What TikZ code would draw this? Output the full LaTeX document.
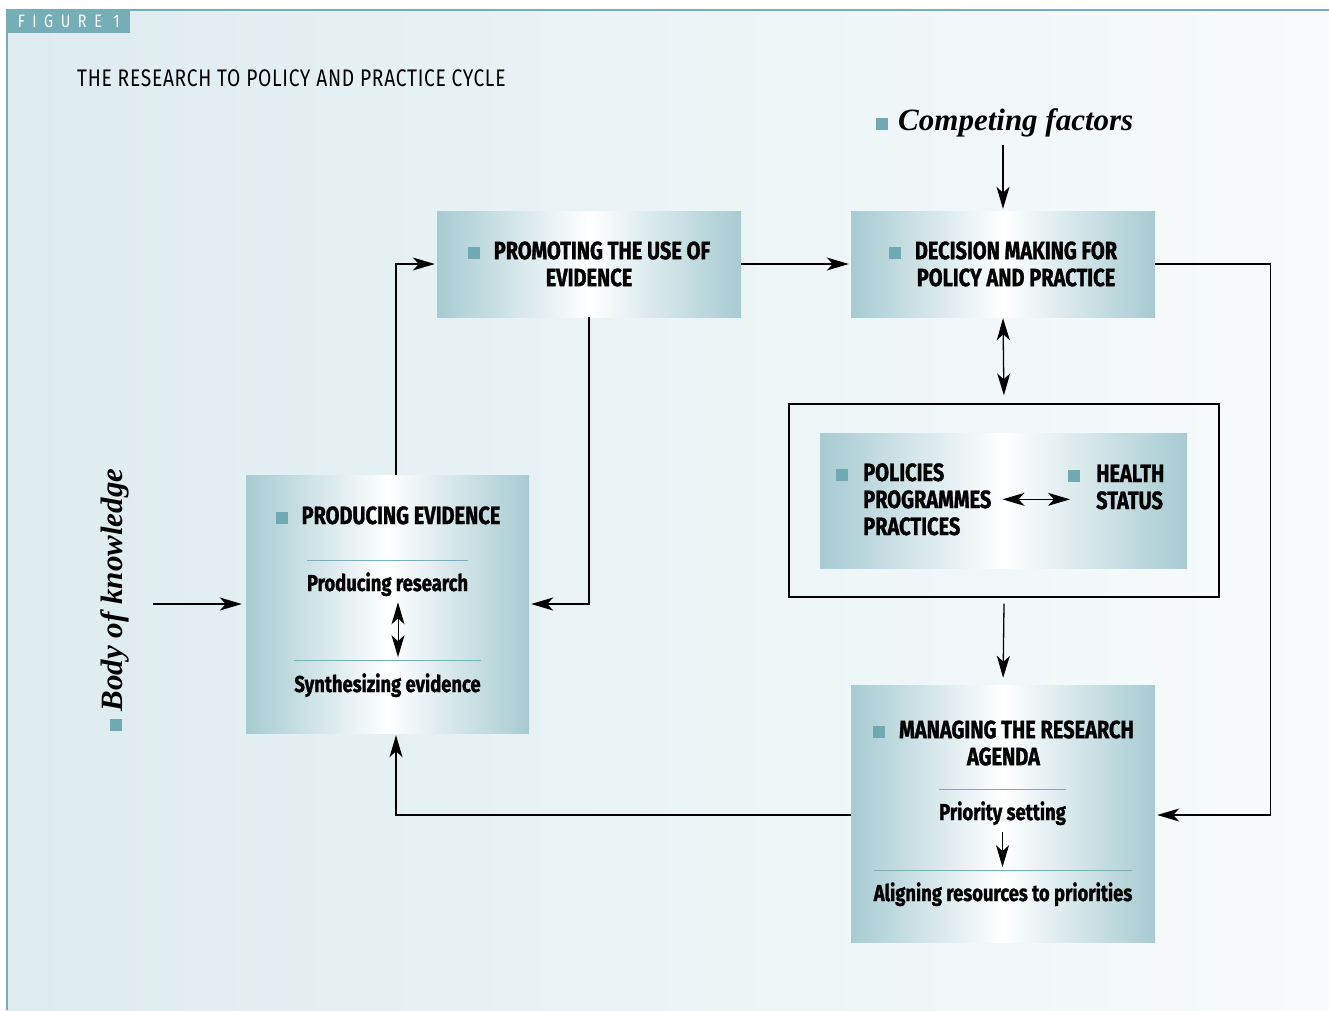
\documentclass[tikz,border=0pt]{standalone}
\usepackage{fontspec}
\usetikzlibrary{arrows.meta}
\newfontfamily\futura{Fira Sans}[FakeStretch=0.8, BoldFeatures={FakeBold=1.2}]
\newfontfamily\garamond{Liberation Serif}
\definecolor{bgl}{RGB}{222,236,239}
\definecolor{bgr}{RGB}{248,251,252}
\definecolor{boxc}{RGB}{166,203,209}
\definecolor{sqc}{RGB}{111,170,180}
\definecolor{framec}{RGB}{118,174,184}
\definecolor{rulec}{RGB}{120,176,186}
\newcommand{\sq}{{\color{sqc}\rule[0.5pt]{12pt}{12pt}}}

\tikzset{
  box/.style={inner sep=0pt, left color=boxc, right color=boxc, middle color=white,
    font=\futura\bfseries\fontsize{25}{27}\selectfont, align=center},
  head/.style={inner sep=0pt, font=\futura\bfseries\fontsize{25}{27}\selectfont},
  sub/.style={inner sep=0pt, font=\futura\bfseries\fontsize{23}{26}\selectfont},
  sepline/.style={draw=rulec, line width=1.1pt},
  arr/.style={-{Stealth[length=22pt,width=13pt,inset=6pt]}, line width=1.3pt},
  arrs/.style={{Stealth[length=22pt,width=13pt,inset=6pt]}-{Stealth[length=22pt,width=13pt,inset=6pt]}, line width=1.3pt},
  side/.style={font=\garamond\bfseries\itshape\fontsize{31}{31}\selectfont, inner sep=0pt}
}

\begin{document}
\begin{tikzpicture}[x=1pt,y=-1pt]
    \useasboundingbox (0,0) rectangle (1329,1010);
    \fill[left color=bgl, right color=bgr] (7,10) rectangle (1329,1010);
    \draw[framec, line width=1.2pt] (7,1010) -- (7,10) -- (1329,10);
    \node[fill=framec, anchor=north west, minimum width=123, minimum height=23, inner sep=0pt,
      text=white, font=\futura\fontsize{18}{18}\selectfont] (fig) at (7,10)
      {\addfontfeature{LetterSpace=42}FIGURE 1};
    \node[anchor=base west, inner sep=0pt, font=\futura\fontsize{24}{24}\selectfont] (title) at (77,86)
      {\addfontfeature{LetterSpace=3}THE RESEARCH TO POLICY AND PRACTICE CYCLE};

    \node[box, minimum width=304, minimum height=106] (prom) at (589,264)
      {\sq\hspace{14pt}PROMOTING THE USE OF\\EVIDENCE};
    \node[box, minimum width=304, minimum height=106] (dec) at (1003,264)
      {\sq\hspace{14pt}DECISION MAKING FOR\\\hspace*{26pt}POLICY AND PRACTICE};
    \node[box, minimum width=283, minimum height=258] (prod) at (387.5,604) {};
    \node[box, minimum width=304, minimum height=257] (mgmt) at (1003,813.5) {};
    \node[draw, line width=1.3pt, minimum width=430, minimum height=193, inner sep=0pt] (hub) at (1004,500.5) {};
    \node[box, minimum width=367, minimum height=135] (pol) at (1003.5,500.5) {};

    \node[head, anchor=base] (prodh) at (388,524) {\sq\hspace{14pt}PRODUCING EVIDENCE};
    \node[sub, anchor=base] (res) at (387.5,591) {Producing research};
    \node[sub, anchor=base] (syn) at (387.5,692) {Synthesizing evidence};
    \draw[sepline] ([yshift=12pt]res.north west) -- ([yshift=12pt]res.north east);
    \draw[sepline] ([yshift=13pt]syn.north west) -- ([yshift=13pt]syn.north east);
    \draw[arrs, line width=1pt, shorten <=6pt, shorten >=16pt] ([xshift=10.5pt]res.south) -- ([xshift=10.5pt]syn.north);

    \node[head, align=center] (mgmth) at (1003.5,743) {\sq\hspace{14pt}MANAGING THE RESEARCH\\AGENDA};
    \node[sub, anchor=base] (prio) at (1002.5,820) {Priority setting};
    \node[sub, anchor=base] (align) at (1003,901) {Aligning resources to priorities};
    \draw[sepline] ([yshift=12pt]prio.north west) -- ([yshift=12pt]prio.north east);
    \draw[sepline] ([yshift=12pt]align.north west) -- ([yshift=12pt]align.north east);
    \draw[arr, line width=1pt, shorten <=7pt, shorten >=15pt] (prio.south) -- (prio.south |- align.north);

    \node[head, anchor=base west, align=left] (pp) at (863,535)
      {\llap{\sq\hspace{15pt}}POLICIES\\PROGRAMMES\\PRACTICES};
    \node[head, anchor=base west, align=left] (hs) at (1096,509)
      {\llap{\sq\hspace{16pt}}HEALTH\\STATUS};
    \draw[arrs, line width=1pt, shorten <=11pt, shorten >=26pt] (pp.east) -- (pp.east -| hs.west);

    \node[side, anchor=base west] (cf) at (876,130) {\sq\hspace{10pt}Competing factors};
    \node[side, anchor=base, rotate=90] (bk) at (122,600) {\sq\hspace{8pt}Body of knowledge};
    \coordinate (cfend) at (1003,145);
    \coordinate (bkend) at (153,604);

    \draw[arr, shorten >=2pt] (cfend) -- (dec.north);
    \draw[arr, shorten >=4pt] (bkend) -- (prod.west);
    \draw[arr, shorten >=2pt] (prom) -- (dec);
    \draw[arr, shorten >=2pt] ([xshift=8.5pt]prod.north) |- (prom.west);
    \draw[arr, shorten >=2pt] (prom.south) |- (prod.east);
    \draw[arrs, shorten <=1pt, shorten >=8pt] (dec.south) -- (hub.north);
    \draw[arr, shorten >=7pt] ([yshift=-6pt]hub.south) -- (mgmt.north);
    \draw[arr, shorten >=2pt] (dec.east) -- ++(115,0) |- ([yshift=-1.5pt]mgmt.east);
    \draw[arr, shorten >=2pt] ([yshift=-1.5pt]mgmt.west) -| ([xshift=8.5pt]prod.south);
\end{tikzpicture}
\end{document}
